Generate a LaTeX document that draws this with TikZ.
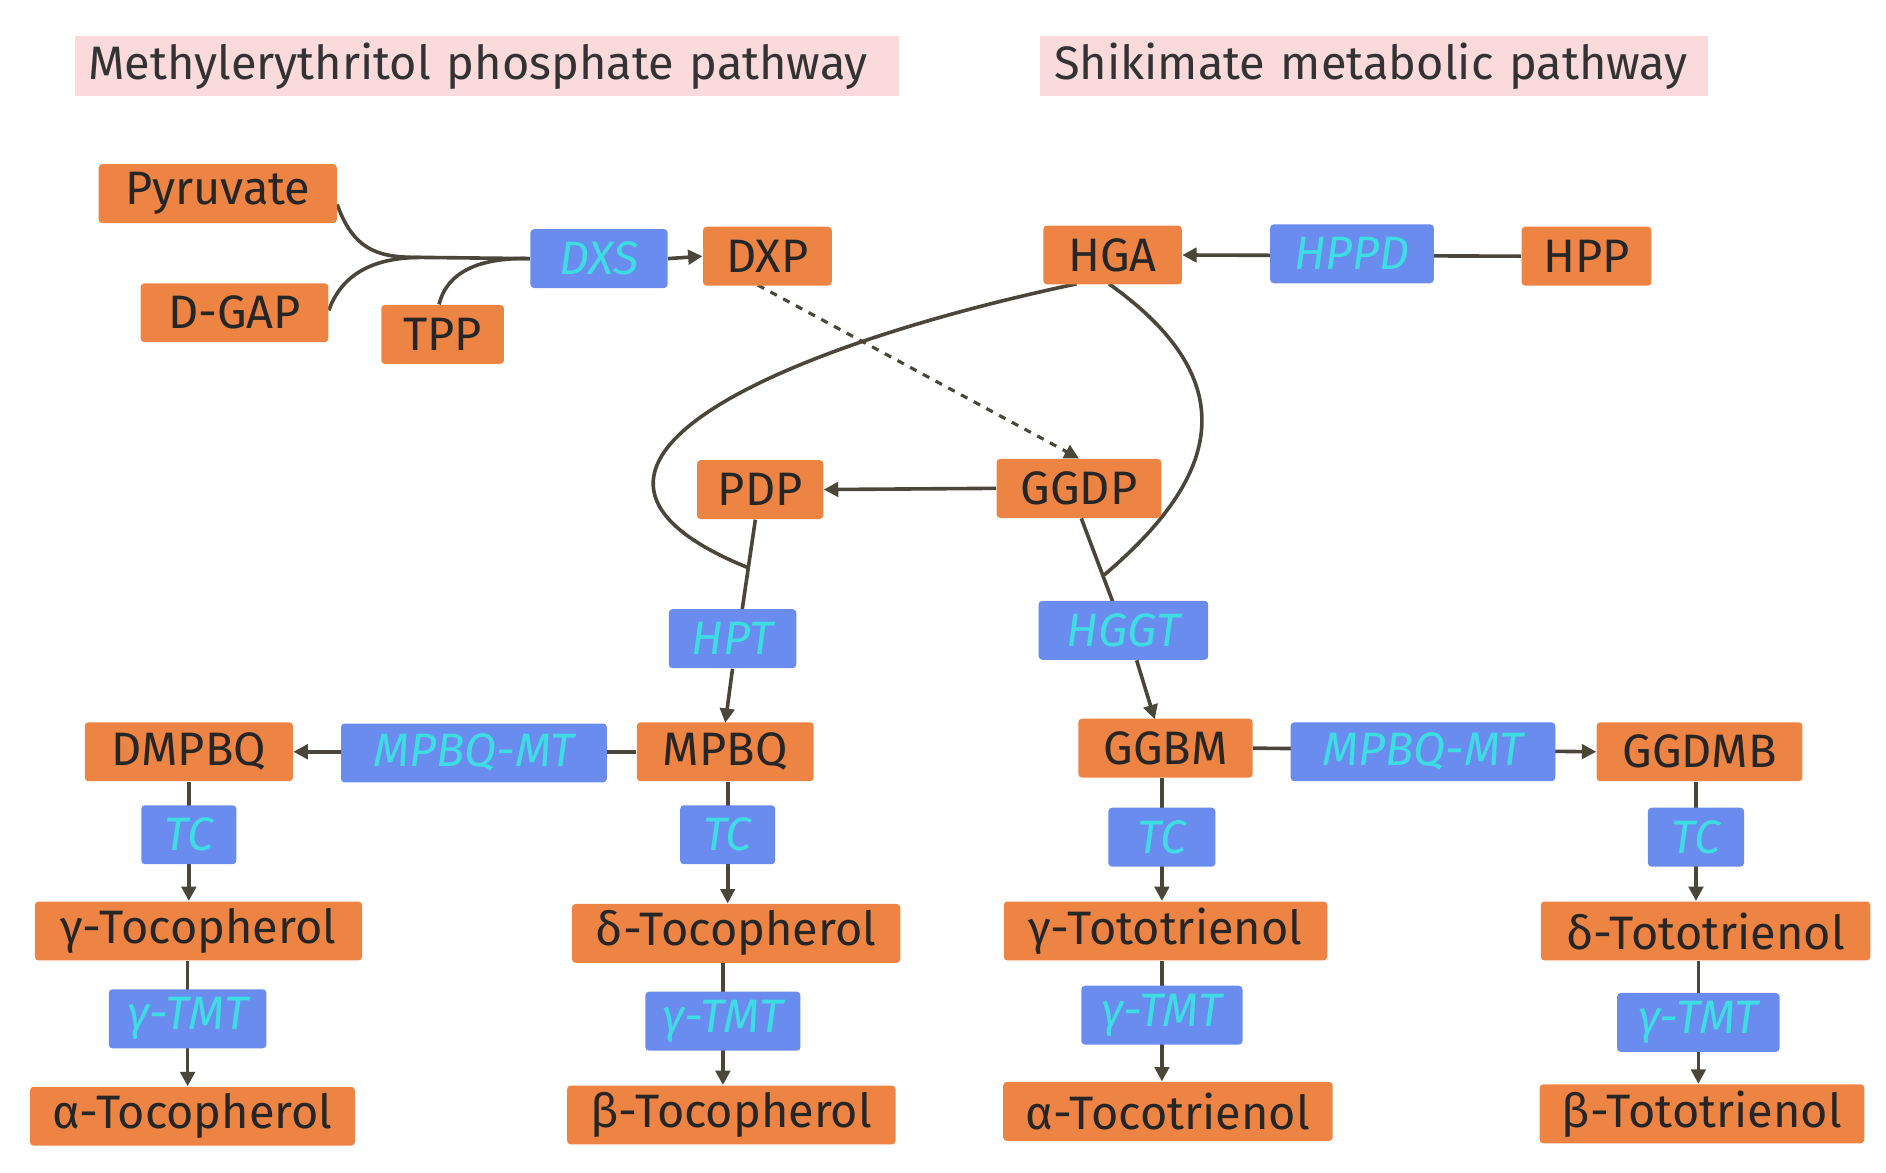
\documentclass[tikz,border=0pt]{standalone}
\usepackage{fontspec}
\setmainfont{Fira Sans}
\usetikzlibrary{arrows.meta,backgrounds}
\definecolor{org}{HTML}{EE8443}
\definecolor{blu}{HTML}{6A8CEE}
\definecolor{cy}{HTML}{3EDDE3}
\definecolor{pk}{HTML}{FADADB}
\definecolor{ln}{HTML}{4A473A}
\begin{document}
\begin{tikzpicture}[x=0.5pt,y=-0.5pt,
 box/.style={minimum height=24.5pt,inner sep=0pt,rounded corners=1.5pt,font=\fontsize{19.5}{21}\selectfont},
 ob/.style={box,fill=org,text=black!85},
 en/.style={box,fill=blu,text=cy,font=\fontsize{19.5}{21}\selectfont\itshape},
 tb/.style={minimum height=25pt,inner sep=0pt,fill=pk,font=\fontsize{19.5}{21}\selectfont,text=black!80,text width=#1,align=left},
 cn/.style={draw=ln,line width=1.5pt},
 ar/.style={cn,-{Triangle[length=6pt,width=6pt]}}]
\useasboundingbox (0,0) rectangle (1568,975);
\node[tb=339pt,minimum width=342.5pt] (t1) at (404.5,55) {\hspace*{4pt}Methylerythritol phosphate pathway};
\node[tb=274pt,minimum width=277.5pt] (t2) at (1142.5,55) {\hspace*{4pt}Shikimate metabolic pathway};
\node[ob,minimum width=99pt] (pyr) at (181,161) {Pyruvate};
\node[ob,minimum width=78pt] (dgap) at (195,260) {D-GAP};
\node[ob,minimum width=51pt] (tpp) at (368,278) {TPP};
\node[en,minimum width=57pt] (dxs) at (498,215) {DXS};
\node[ob,minimum width=53.5pt] (dxp) at (638,213) {DXP};
\node[ob,minimum width=57.5pt] (hga) at (925,212) {HGA};
\node[en,minimum width=68pt] (hppd) at (1124,211) {HPPD};
\node[ob,minimum width=54pt] (hpp) at (1319,213) {HPP};
\node[ob,minimum width=52.5pt] (pdp) at (632,407) {PDP};
\node[ob,minimum width=68.5pt] (ggdp) at (897,406) {GGDP};
\node[en,minimum width=53pt] (hpt) at (609,531) {HPT};
\node[en,minimum width=70.5pt] (hggt) at (934,524) {HGGT};
\node[ob,minimum width=86.5pt] (dmpbq) at (157,625) {DMPBQ};
\node[en,minimum width=110.5pt] (mt1) at (394,626) {MPBQ-MT};
\node[ob,minimum width=73.5pt] (mpbq) at (603,625) {MPBQ};
\node[ob,minimum width=72.5pt] (ggbm) at (969,622) {GGBM};
\node[en,minimum width=110pt] (mt2) at (1183,625) {MPBQ-MT};
\node[ob,minimum width=85.5pt] (ggdmb) at (1413,625) {GGDMB};
\node[en,minimum width=39.5pt] (tc1) at (157,694) {TC};
\node[en,minimum width=39.5pt] (tc2) at (605,694) {TC};
\node[en,minimum width=44.5pt] (tc3) at (966,696) {TC};
\node[en,minimum width=40pt] (tc4) at (1410,696) {TC};
\node[ob,minimum width=136pt] (gtoc) at (165,774) {γ-Tocopherol};
\node[ob,minimum width=136.5pt] (dtoc) at (612,776) {δ-Tocopherol};
\node[ob,minimum width=134.5pt] (gtot) at (969,774) {γ-Tototrienol};
\node[ob,minimum width=137pt] (dtot) at (1418,774) {δ-Tototrienol};
\node[en,minimum width=65.5pt] (tm1) at (156,847) {γ-TMT};
\node[en,minimum width=64.5pt] (tm2) at (601,849) {γ-TMT};
\node[en,minimum width=67pt] (tm3) at (966,844) {γ-TMT};
\node[en,minimum width=67.5pt] (tm4) at (1412,850) {γ-TMT};
\node[ob,minimum width=135pt] (atoc) at (160,928) {α-Tocopherol};
\node[ob,minimum width=136.5pt] (btoc) at (608,927) {β-Tocopherol};
\node[ob,minimum width=137pt] (atot) at (971,924) {α-Tocotrienol};
\node[ob,minimum width=135pt] (btot) at (1415,926) {β-Tototrienol};
\coordinate (j1) at (350,214);
\coordinate (j2) at (622,472);
\coordinate (j3) at (918,478);
\begin{scope}[on background layer]
\draw[cn] (pyr.east |- 0,170) .. controls (295,212) and (320,214) .. (j1);
\draw[cn] (dgap.east |- 0,258) .. controls (285,225) and (315,214) .. (j1);
\draw[cn] (tpp.north -| 365,0) .. controls (372,225) and (400,214) .. (dxs.west);
\draw[cn] (j1) -- (dxs.west);
\draw[ar] (dxs.east) -- (dxp.west);
\draw[ar,dashed,line width=1.3pt] (630,237) -- (ggdp.north);
\draw[ar] (hpp.west) -- (hga.east);
\draw[cn] (895,236) .. controls (640,290) and (420,390) .. (j2);
\draw[cn] (922,236) .. controls (1040,320) and (1010,400) .. (j3);
\draw[ar] (ggdp.west) -- (pdp.east);
\draw[cn] (628,432) -- (617,507);
\draw[ar] (609,556) -- (603,601);
\draw[cn] (899,431) -- (925,500);
\draw[ar] (945,549) -- (960,598);
\draw[ar] (mpbq.west) -- (dmpbq.east);
\draw[ar] (ggbm.east) -- (ggdmb.west);
\draw[ar] (dmpbq.south -| tc1) -- (gtoc.north -| tc1);
\draw[ar] (gtoc.south -| tm1) -- (atoc.north -| tm1);
\draw[ar] (mpbq.south -| tc2) -- (dtoc.north -| tc2);
\draw[ar] (dtoc.south -| tm2) -- (btoc.north -| tm2);
\draw[ar] (ggbm.south -| tc3) -- (gtot.north -| tc3);
\draw[ar] (gtot.south -| tm3) -- (atot.north -| tm3);
\draw[ar] (ggdmb.south -| tc4) -- (dtot.north -| tc4);
\draw[ar] (dtot.south -| tm4) -- (btot.north -| tm4);
\end{scope}
\end{tikzpicture}
\end{document}
